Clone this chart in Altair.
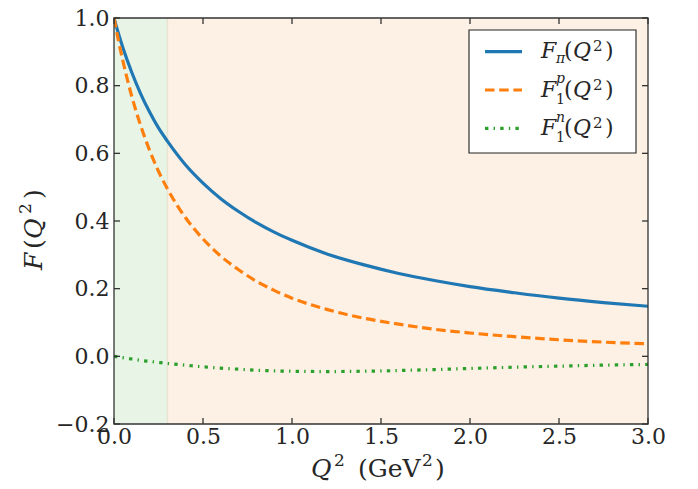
import altair as alt
import pandas as pd

# ---- data ----
q2 = [0.0, 0.025, 0.05, 0.1, 0.15, 0.2, 0.25, 0.3, 0.4, 0.5, 0.6, 0.7, 0.8, 0.9,
      1.0, 1.2, 1.4, 1.6, 1.8, 2.0, 2.25, 2.5, 2.75, 3.0]
f_pi = [1.000, 0.954, 0.912, 0.839, 0.776, 0.722, 0.675, 0.636, 0.567, 0.512, 0.466,
        0.428, 0.395, 0.367, 0.343, 0.302, 0.271, 0.245, 0.224, 0.206, 0.188, 0.172,
        0.159, 0.148]
f1_p = [1.000, 0.933, 0.873, 0.768, 0.682, 0.609, 0.547, 0.495, 0.411, 0.347, 0.296,
        0.256, 0.222, 0.195, 0.172, 0.138, 0.113, 0.095, 0.080, 0.069, 0.058, 0.049,
        0.042, 0.037]
f1_n = [0.000, -0.002, -0.004, -0.008, -0.012, -0.015, -0.018, -0.021, -0.026, -0.031,
        -0.035, -0.038, -0.041, -0.043, -0.044, -0.045, -0.044, -0.042, -0.039, -0.036,
        -0.032, -0.029, -0.026, -0.024]

span_start = [0.0, 0.3]
span_end = [0.3, 3.0]
span_color = ["#e8f4e6", "#fdf0e4"]

x_ticks = [0.0, 0.5, 1.0, 1.5, 2.0, 2.5, 3.0]
y_ticks = [-0.2, 0.0, 0.2, 0.4, 0.6, 0.8, 1.0]

W, H = 534, 406
LEFT, TOP = 114, 18
FONT = "DejaVu Serif"
INK = "#262626"
SPINE = "#333333"

xs = alt.Scale(domain=[0, 3], nice=False, zero=False)
ys = alt.Scale(domain=[-0.2, 1.0], nice=False, zero=False)

X_AX = alt.Axis(values=x_ticks, format=".1f", title=None, ticks=False, domain=False,
                grid=False, labelFont=FONT, labelFontSize=22, labelColor=INK,
                labelPadding=2, labelFlush=False, labelOverlap=False)
Y_AX = alt.Axis(values=y_ticks, format=".1f", title=None, ticks=False, domain=False,
                grid=False, labelFont=FONT, labelFontSize=22, labelColor=INK,
                labelPadding=5, labelFlush=False, labelOverlap=False)


def X(f):
    return alt.X(f, scale=xs, axis=X_AX, title=None)


def Y(f):
    return alt.Y(f, scale=ys, axis=Y_AX, title=None)


one = pd.DataFrame({"a": [0]})

# shaded regions
spans = pd.DataFrame({"s": span_start, "e": span_end, "c": span_color})
shade = alt.Chart(spans).mark_rect().encode(
    x=X("s:Q"), x2="e:Q", y=alt.value(0), y2=alt.value(H),
    color=alt.Color("c:N", scale=None),
)
edge = alt.Chart(pd.DataFrame({"s": span_end[:1]})).mark_rule(
    color="#e9e4d2", strokeWidth=1.5).encode(x=X("s:Q"), y=alt.value(0), y2=alt.value(H))


def curve(vals, color, dash=None):
    df = pd.DataFrame({"q2": q2, "f": vals})
    kw = dict(color=color, strokeWidth=3.2, interpolate="monotone", clip=True)
    if dash:
        kw["strokeDash"] = dash
    return alt.Chart(df).mark_line(**kw).encode(x=X("q2:Q"), y=Y("f:Q"))


l_pi = curve(f_pi, "#1f77b4")
l_p = curve(f1_p, "#ff7f0e", [9.5, 4.7])
l_n = curve(f1_n, "#2ca02c", [3.4, 5.2, 1.4, 5.2])

# inward ticks on all four sides
xt = pd.DataFrame({"s": x_ticks})
yt = pd.DataFrame({"f": y_ticks})
tk = dict(color=SPINE, strokeWidth=1.3)
tick_b = alt.Chart(xt).mark_rule(**tk).encode(x=X("s:Q"), y=alt.value(H), y2=alt.value(H - 6))
tick_t = alt.Chart(xt).mark_rule(**tk).encode(x=X("s:Q"), y=alt.value(0), y2=alt.value(6))
tick_l = alt.Chart(yt).mark_rule(**tk).encode(y=Y("f:Q"), x=alt.value(0), x2=alt.value(6))
tick_r = alt.Chart(yt).mark_rule(**tk).encode(y=Y("f:Q"), x=alt.value(W), x2=alt.value(W - 6))

frame = alt.Chart(one).mark_rect(fillOpacity=0, stroke=SPINE, strokeWidth=1.3).encode(
    x=alt.value(0), x2=alt.value(W), y=alt.value(0), y2=alt.value(H))


def txt(s, px, py, size, italic=False, angle=0):
    kw = dict(font=FONT, fontSize=size, color=INK, align="left",
              baseline="alphabetic", text=s)
    if italic:
        kw["fontStyle"] = "italic"
    if angle:
        kw["angle"] = angle
    return alt.Chart(one).mark_text(**kw).encode(
        x=alt.value(px - LEFT), y=alt.value(py - TOP))


# axis titles
title_parts = [
    txt("Q", 311, 477, 25, True), txt("2", 334, 466, 17), txt("(GeV", 358, 477, 25),
    txt("2", 422, 466, 17), txt(")", 435, 477, 25),
    txt("F", 42, 270, 25, True, 270), txt("(", 42, 249, 25, False, 270),
    txt("Q", 42, 239, 25, True, 270), txt("2", 31, 214, 17, False, 270),
    txt(")", 42, 199, 25, False, 270),
]

# legend
box = alt.Chart(one).mark_rect(fill="white", stroke="#222222", strokeWidth=1.1).encode(
    x=alt.value(469 - LEFT), x2=alt.value(636 - LEFT),
    y=alt.value(30 - TOP), y2=alt.value(153 - TOP))


def sample(py, color, dash=None):
    kw = dict(color=color, strokeWidth=3.2)
    if dash:
        kw["strokeDash"] = dash
    return alt.Chart(one).mark_rule(**kw).encode(
        x=alt.value(485 - LEFT), x2=alt.value(522 - LEFT), y=alt.value(py - TOP))


leg = [box,
       sample(51.7, "#1f77b4"), sample(90, "#ff7f0e", [9.5, 4.7]),
       sample(128.3, "#2ca02c", [3.4, 5.2, 1.4, 5.2])]
rows = [(58, "π", None, 63), (96.5, "p", 83, None), (135, "n", 121.5, None)]
for base, sym, sup_y, sub_y in rows:
    leg.append(txt("F", 541, base, 22, True))
    if sub_y is not None:
        leg.append(txt(sym, 556, sub_y, 14, True))
    else:
        leg.append(txt(sym, 556, sup_y, 14, True))
        leg.append(txt("1", 556, base + 7, 14))
    leg += [txt("(", 564, base, 22), txt("Q", 573, base, 22, True),
            txt("2", 593, base - 7, 15), txt(")", 605, base, 22)]

chart = alt.layer(shade, edge, l_pi, l_p, l_n, tick_b, tick_t, tick_l, tick_r, frame,
                  *title_parts, *leg).properties(
    width=W, height=H,
    padding={"left": LEFT, "top": TOP, "right": 698 - LEFT - W, "bottom": 489 - TOP - H},
    autosize=alt.AutoSizeParams(type="none"),
    background="white",
).configure_view(stroke=None)

chart.save("out.html", embed_options={"renderer": "svg", "actions": False})
